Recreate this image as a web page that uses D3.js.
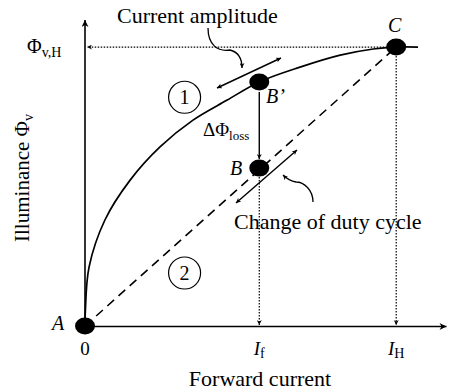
<!DOCTYPE html>
<html>
<head>
<meta charset="utf-8">
<script src="https://cdn.jsdelivr.net/npm/d3@7"></script>
<style>
  body { margin: 0; background: #fff; }
  svg { font-family: "Liberation Serif", "DejaVu Serif", serif; }
</style>
</head>
<body>
<svg id="chart" width="450" height="390"></svg>
<script>
// forward current (I_H = 1) vs illuminance (Phi_v,H = 1)
var curveX = [0, 0.001, 0.013, 0.064, 0.145, 0.241, 0.347, 0.457, 0.56, 0.691, 0.82, 0.926, 1, 1.07];
var curveY = [0, 0.05, 0.211, 0.38, 0.523, 0.642, 0.738, 0.81, 0.875, 0.928, 0.971, 0.993, 1, 1];

var If = 0.56, IH = 1, PhiH = 1, PhiB = 0.566;
var pointNames = ['A', 'B', 'B\u2019', 'C'];
var pointX = [0, If, If, IH];
var pointY = [0, PhiB, 0.875, PhiH];
var xTicks = [0, If, IH];
var xTickLabels = [['0', ''], ['I', 'f'], ['I', 'H']];

var svg = d3.select('#chart');
var x = d3.scaleLinear().domain([0, 1.16]).range([85, 446]);
var y = d3.scaleLinear().domain([0, 1.097]).range([326, 20]);

var defs = svg.append('defs');
function marker(id, w, h) {
    defs.append('marker')
        .attr('id', id).attr('viewBox', '0 0 10 10')
        .attr('refX', 10).attr('refY', 5)
        .attr('markerWidth', w).attr('markerHeight', h)
        .attr('markerUnits', 'userSpaceOnUse')
        .attr('orient', 'auto-start-reverse')
      .append('path').attr('d', 'M0,0L10,5L0,10L3,5Z').attr('fill', '#000');
}
marker('arr', 9, 7);
marker('arrs', 6, 5);

// axes
var xAxis = svg.append('g').attr('transform', 'translate(0,' + y(0) + ')')
    .call(d3.axisBottom(x).tickValues(xTicks).tickSize(0).tickFormat(''));
xAxis.select('.domain').attr('stroke-width', 1.6).attr('marker-end', 'url(#arr)');
xAxis.selectAll('.tick text').remove();
xTicks.forEach(function(v, i) {
    var t = svg.append('text').attr('x', x(v)).attr('y', 355)
        .attr('text-anchor', 'middle').attr('font-size', 19);
    if (i === 0) { t.text(xTickLabels[i][0]); return; }
    t.append('tspan').attr('font-style', 'italic').text(xTickLabels[i][0]);
    t.append('tspan').attr('font-size', 14).attr('dy', 3).text(xTickLabels[i][1]);
});

var yAxis = svg.append('g').attr('transform', 'translate(' + x(0) + ',0)')
    .call(d3.axisLeft(y).tickValues([]).tickSize(0));
yAxis.select('.domain').attr('stroke-width', 1.6)
    .attr('d', 'M0,' + y(0) + 'V' + y(1.097)).attr('marker-end', 'url(#arr)');

svg.append('text').attr('transform', 'translate(29,178) rotate(-90)')
    .attr('text-anchor', 'middle').attr('font-size', 21)
    .text('Illuminance Φ')
  .append('tspan').attr('font-size', 14).attr('dy', 4).text('v');

svg.append('text').attr('x', 260).attr('y', 386).attr('text-anchor', 'middle')
    .attr('font-size', 22).text('Forward current');

var phiH = svg.append('text').attr('x', 27).attr('y', y(PhiH) + 6).attr('font-size', 20).text('Φ');
phiH.append('tspan').attr('font-size', 14).attr('dy', 4).text('v,H');

// guide lines
var dotted = svg.append('g').attr('stroke', '#000').attr('stroke-width', 1.2)
    .attr('stroke-dasharray', '1.5,1.5').attr('fill', 'none');
dotted.append('line').attr('x1', x(IH)).attr('y1', y(PhiH)).attr('x2', x(0) + 2).attr('y2', y(PhiH))
    .attr('marker-end', 'url(#arrs)');
dotted.append('line').attr('x1', x(IH)).attr('y1', y(PhiH)).attr('x2', x(IH)).attr('y2', y(0) - 1)
    .attr('marker-end', 'url(#arrs)');
dotted.append('line').attr('x1', x(If)).attr('y1', y(PhiB)).attr('x2', x(If)).attr('y2', y(0) - 1)
    .attr('marker-end', 'url(#arrs)');

// dashed line A -> C
svg.append('line').attr('x1', x(0)).attr('y1', y(0)).attr('x2', x(IH)).attr('y2', y(PhiH))
    .attr('stroke', '#000').attr('stroke-width', 1.6).attr('stroke-dasharray', '9,6');

// current curve
var line = d3.line().x(function(d) { return x(d[0]); }).y(function(d) { return y(d[1]); })
    .curve(d3.curveCatmullRom.alpha(0.5));
svg.append('path').datum(d3.zip(curveX, curveY)).attr('d', line)
    .attr('fill', 'none').attr('stroke', '#000').attr('stroke-width', 1.7);

// loss arrow B' -> B
svg.append('line').attr('x1', x(If)).attr('y1', y(0.875) + 10).attr('x2', x(If)).attr('y2', y(PhiB) - 9)
    .attr('stroke', '#000').attr('stroke-width', 1.4).attr('marker-end', 'url(#arrs)');

var dl = svg.append('text').attr('x', 203).attr('y', 136).attr('font-size', 19).text('ΔΦ');
dl.append('tspan').attr('font-size', 13).attr('dy', 4).text('loss');

// points
svg.selectAll('.pt').data(d3.zip(pointX, pointY)).enter().append('ellipse')
    .attr('cx', function(d) { return x(d[0]); }).attr('cy', function(d) { return y(d[1]); })
    .attr('rx', 10).attr('ry', 8.5).attr('fill', '#000');

var labelPos = [[52, 330], [230, 175], [266, 103], [388, 32]];
pointNames.forEach(function(n, i) {
    svg.append('text').attr('x', labelPos[i][0]).attr('y', labelPos[i][1])
        .attr('font-size', 20).attr('font-style', 'italic').text(n);
});

// double arrows
function dbl(x1, y1, x2, y2) {
    svg.append('line').attr('x1', x1).attr('y1', y1).attr('x2', x2).attr('y2', y2)
        .attr('stroke', '#000').attr('stroke-width', 1.4)
        .attr('marker-start', 'url(#arrs)').attr('marker-end', 'url(#arrs)');
}
dbl(217, 88, 281, 58);
dbl(236, 203, 297, 150);

// pointer curves
svg.append('path').attr('d', 'M208,28C208,45 218,52 230,50C238,52 242,58 242,68')
    .attr('fill', 'none').attr('stroke', '#000').attr('stroke-width', 1.3)
    .attr('marker-end', 'url(#arrs)');
svg.append('path').attr('d', 'M313,202C313,190 304,182 296,182C290,181 286,178 283,175')
    .attr('fill', 'none').attr('stroke', '#000').attr('stroke-width', 1.3)
    .attr('marker-end', 'url(#arrs)');

svg.append('text').attr('x', 117).attr('y', 23).attr('font-size', 22).text('Current amplitude');
svg.append('text').attr('x', 234).attr('y', 229).attr('font-size', 22).text('Change of duty cycle');

// region markers
var regions = [['1', 0.32, 0.82], ['2', 0.32, 0.19]];
regions.forEach(function(r) {
    svg.append('circle').attr('cx', x(r[1])).attr('cy', y(r[2])).attr('r', 16)
        .attr('fill', 'none').attr('stroke', '#000').attr('stroke-width', 1.2);
    svg.append('text').attr('x', x(r[1])).attr('y', y(r[2]) + 7).attr('text-anchor', 'middle')
        .attr('font-size', 20).text(r[0]);
});
</script>
</body>
</html>
